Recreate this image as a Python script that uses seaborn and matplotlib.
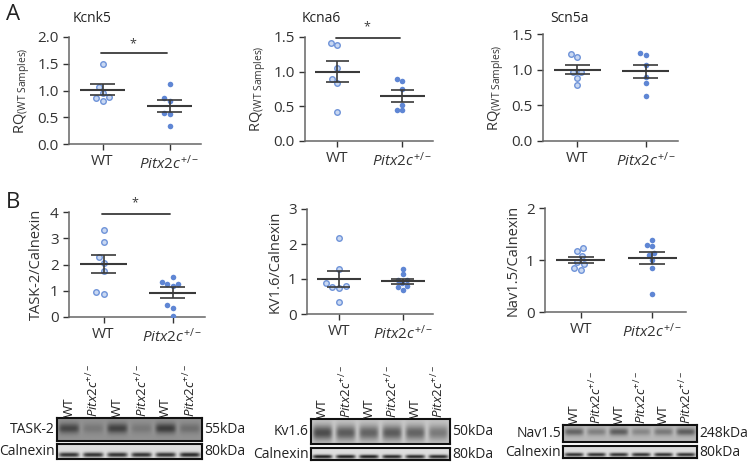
import numpy as np
import pandas as pd
import matplotlib
matplotlib.use("Agg")
import matplotlib.pyplot as plt
import seaborn as sns

# ---- dados ----
groups = ["WT", "Pitx2c"]
tick_labels = ["WT", r"$\mathit{Pitx2c}^{\mathit{+/-}}$"]

kcnk5_wt = [1.49, 1.07, 0.96, 0.87, 0.86, 0.81]
kcnk5_pitx = [1.13, 0.86, 0.81, 0.58, 0.57, 0.33]
kcna6_wt = [1.41, 1.38, 1.06, 0.90, 0.83, 0.42]
kcna6_pitx = [0.89, 0.87, 0.75, 0.52, 0.44, 0.45]
scn5a_wt = [1.22, 1.18, 0.97, 0.97, 0.89, 0.78]
scn5a_pitx = [1.23, 1.21, 1.07, 0.90, 0.81, 0.63]

task2_wt = [3.30, 2.86, 2.27, 2.07, 1.75, 0.95, 0.89]
task2_pitx = [1.54, 1.33, 1.27, 1.27, 1.17, 0.44, 0.36, 0.05]
kv16_wt = [2.16, 1.29, 0.90, 0.79, 0.74, 0.78, 0.33]
kv16_pitx = [1.29, 1.13, 0.98, 0.96, 0.88, 0.80, 0.78, 0.70]
nav15_wt = [1.24, 1.17, 1.07, 0.97, 0.92, 0.85, 0.80]
nav15_pitx = [1.38, 1.29, 1.27, 1.14, 1.09, 1.00, 0.84, 0.34]

# intensidade relativa das bandas (6 canaletas: WT, Pitx, WT, Pitx, WT, Pitx)
lane_labels = ["WT", r"$\mathit{Pitx2c}^{\mathit{+/-}}$"] * 3
task2_bands = [0.75, 0.25, 0.80, 0.25, 0.85, 0.35]
task2_calnexin = [0.85, 0.85, 0.85, 0.85, 0.85, 0.90]
kv16_bands = [0.80, 0.70, 0.65, 0.70, 0.65, 0.50]
kv16_calnexin = [0.95, 0.95, 0.95, 0.90, 0.90, 0.90]
nav15_bands = [0.60, 0.40, 0.65, 0.35, 0.45, 0.65]
nav15_calnexin = [0.85, 0.85, 0.85, 0.85, 0.85, 0.85]

sns.set_theme(style="ticks")
plt.rcParams["font.family"] = ["Open Sans", "DejaVu Sans"]
plt.rcParams["mathtext.fontset"] = "custom"
plt.rcParams["mathtext.rm"] = "Open Sans"
plt.rcParams["mathtext.it"] = "Open Sans:italic"

W, H = 748, 470
fig = plt.figure(figsize=(W / 100, H / 100), dpi=100)


def px_axes(left, top, right, bottom):
    return fig.add_axes([left / W, (H - bottom) / H, (right - left) / W, (bottom - top) / H])


rq_label = r"RQ$_{\mathrm{(WT\ Samples)}}$"
panels = [
    # título, wt, pitx, ymax, yticks, fmt, ylabel, caixa (l, t, r, b), título x, significância
    ("Kcnk5", kcnk5_wt, kcnk5_pitx, 2.0, [0, 0.5, 1.0, 1.5, 2.0], "%.1f", rq_label, (69, 37, 201, 144), 73, (1.70, 1.88)),
    ("Kcna6", kcna6_wt, kcna6_pitx, 1.5, [0, 0.5, 1.0, 1.5], "%.1f", rq_label, (305, 37, 433, 141), 302, (1.485, 1.64)),
    ("Scn5a", scn5a_wt, scn5a_pitx, 1.5, [0, 0.5, 1.0, 1.5], "%.1f", rq_label, (543, 34, 678, 141), 550, None),
    (None, task2_wt, task2_pitx, 4, [0, 1, 2, 3, 4], "%d", "TASK-2/Calnexin", (69, 212, 205, 317), None, (3.91, 4.35)),
    (None, kv16_wt, kv16_pitx, 3, [0, 1, 2, 3], "%d", "KV1.6/Calnexin", (307, 209, 433, 314), None, None),
    (None, nav15_wt, nav15_pitx, 2, [0, 1, 2], "%d", "Nav1.5/Calnexin", (545, 208, 686, 312), None, None),
]

dark = "#3a3a3a"
for title, wt, pitx, ymax, yticks, fmt, ylabel, box, tx, sig in panels:
    ax = px_axes(*box)
    df = pd.DataFrame({"grupo": ["WT"] * len(wt) + ["Pitx2c"] * len(pitx), "valor": wt + pitx})
    sns.swarmplot(data=df[df.grupo == "WT"], x="grupo", y="valor", order=groups, ax=ax,
                  color="#c9d8f2", edgecolor="#6f93d8", linewidth=1.0, size=4.0)
    sns.swarmplot(data=df[df.grupo == "Pitx2c"], x="grupo", y="valor", order=groups, ax=ax,
                  color="#5f86d4", linewidth=0, size=4.0)
    # média e erro padrão
    for i, vals in enumerate([wt, pitx]):
        v = np.array(vals)
        m = v.mean()
        sem = v.std(ddof=1) / np.sqrt(len(v))
        ax.hlines(m, i - 0.34, i + 0.34, color=dark, lw=1.5, zorder=5)
        ax.hlines([m - sem, m + sem], i - 0.18, i + 0.18, color=dark, lw=1.2, zorder=5)
        ax.vlines(i, m - sem, m + sem, color=dark, lw=1.2, zorder=5)
    if sig is not None:
        ax.plot([-0.02, 0.96], [sig[0], sig[0]], color=dark, lw=1.3, clip_on=False)
        ax.text(0.45, sig[1], "*", ha="center", va="center", fontsize=9, color=dark, clip_on=False)
    ax.set_xlim(-0.5, 1.47)
    ax.set_ylim(0, ymax)
    ax.set_yticks(yticks)
    ax.set_yticklabels([fmt % t for t in yticks])
    ax.set_xticks([0, 1])
    ax.set_xticklabels(tick_labels)
    ax.set_xlabel("")
    ax.set_ylabel(ylabel, fontsize=10.5, color="#333333", labelpad=4)
    ax.tick_params(labelsize=11, colors="#333333", length=4, width=1)
    for s in ["left", "bottom"]:
        ax.spines[s].set_color("#666666")
        ax.spines[s].set_linewidth(1.1)
    sns.despine(ax=ax)
    if title:
        fig.text(tx / W, 1 - 19 / H, title, fontsize=10, color="#222222", va="center", ha="left")

fig.text(6 / W, 1 - 15 / H, "A", fontsize=16, color="#222222", va="center", ha="left")
fig.text(6 / W, 1 - 202 / H, "B", fontsize=16, color="#222222", va="center", ha="left")


def blot_image(bands, bg, band_dark, center, sigma):
    # imagem simples da membrana: cada canaleta com a sua intensidade
    ncol, nrow = 240, 40
    x = (np.arange(ncol) + 0.5) / ncol * len(bands)
    idx = np.minimum(x.astype(int), len(bands) - 1)
    u = x - idx
    horiz = np.exp(-((u - 0.5) / 0.42) ** 6) * np.array(bands)[idx]
    y = (np.arange(nrow) + 0.5) / nrow
    vert = np.exp(-((y - center) / sigma) ** 2)
    return bg - (bg - band_dark) * np.outer(vert, horiz)


blots = [
    # (proteína, kDa, bandas, calnexina, caixa, caixa calnexina, fundo, centro, largura da banda)
    ("TASK-2", "55kDa", task2_bands, task2_calnexin, (57, 418, 202, 441), (57, 444, 202, 459), 0.57, 0.45, 0.22),
    ("Kv1.6", "50kDa", kv16_bands, kv16_calnexin, (311, 419, 450, 444), (311, 448, 450, 460), 0.78, 0.55, 0.30),
    ("Nav1.5", "248kDa", nav15_bands, nav15_calnexin, (563, 425, 697, 442), (563, 446, 697, 458), 0.72, 0.40, 0.22),
]

for name, kda, bands, caln, box1, box2, bg, cen, sig_w in blots:
    ax1 = px_axes(*box1)
    ax1.imshow(blot_image(bands, bg, 0.18, cen, sig_w), cmap="gray", vmin=0, vmax=1,
               aspect="auto", interpolation="bilinear")
    ax2 = px_axes(*box2)
    ax2.imshow(blot_image(caln, 0.87, 0.08, 0.72, 0.16), cmap="gray", vmin=0, vmax=1,
               aspect="auto", interpolation="bilinear")
    for a in (ax1, ax2):
        a.set_xticks([])
        a.set_yticks([])
        for s in a.spines.values():
            s.set_visible(True)
            s.set_color("#111111")
            s.set_linewidth(1.5)
    for i, lab in enumerate(lane_labels):
        ax1.text((i + 0.5) / 6, 1.04, lab, transform=ax1.transAxes, rotation=90,
                 ha="center", va="bottom", fontsize=9.5, color="#222222")
    ax1.text(-0.015, 0.5, name, transform=ax1.transAxes, ha="right", va="center", fontsize=10, color="#222222")
    ax2.text(-0.015, 0.5, "Calnexin", transform=ax2.transAxes, ha="right", va="center", fontsize=10, color="#222222")
    ax1.text(1.015, 0.5, kda, transform=ax1.transAxes, ha="left", va="center", fontsize=10, color="#222222")
    ax2.text(1.015, 0.5, "80kDa", transform=ax2.transAxes, ha="left", va="center", fontsize=10, color="#222222")

fig.savefig("out.png", dpi=100)
